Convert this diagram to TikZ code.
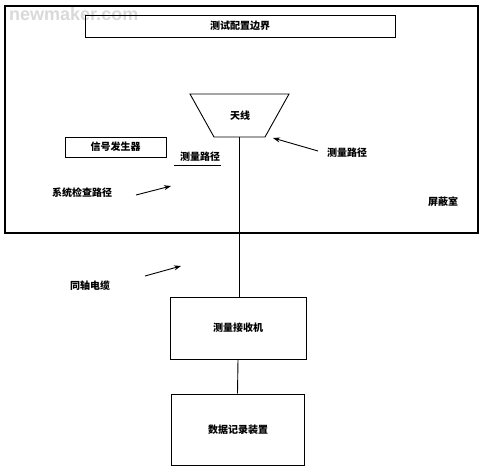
\documentclass[tikz,border=0pt]{standalone}
\usepackage{fontspec}
\newfontfamily\cjk{Noto Sans CJK SC}
\newfontfamily\wm{Liberation Sans}
\usetikzlibrary{arrows.meta,calc}
\begin{document}
\begin{tikzpicture}[x=1pt,y=1pt,
  lbl/.style={font=\cjk\fontsize{10}{12}\selectfont\bfseries, inner sep=0pt},
  box/.style={draw, line width=0.9pt},
  conn/.style={line width=0.9pt},
  arr/.style={line width=0.9pt, -{Stealth[length=7pt,width=5pt]}}]
\useasboundingbox (0,0) rectangle (484,-468);
% watermark
\node[font=\wm\bfseries\fontsize{18}{18}\selectfont, text=gray!30, anchor=west, inner sep=0pt] (wmk) at (9,-14) {newmaker.com};
% shielded room
\draw[box, line width=1.1pt] (5,-6) rectangle (478,-233);
\node[lbl] (room) at (443,-202) {屏蔽室};
% test config boundary
\draw[box] (85,-15) rectangle (395,-37);
\node[lbl] (bound) at (240,-26) {测试配置边界};
% antenna
\draw[box] (190,-94) -- (289,-94) -- (265,-137) -- (214,-137) -- cycle;
\coordinate (antb) at (239,-137);
\node[lbl] (ant) at (240,-116) {天线};
% signal generator
\draw[box] (65,-137) rectangle (166,-157);
\node[lbl] (sg) at (115.5,-147) {信号发生器};
% measurement path underlined
\node[lbl] (mp1) at (200,-157) {测量路径};
\draw[conn] (174,-165) -- (221,-165);
% measurement path arrow
\node[lbl] (mp2) at (347,-153) {测量路径};
\coordinate (a1s) at (318,-151);
\coordinate (a1e) at (273,-138);
\draw[arr] (a1s) -- (a1e);
% system check path
\node[lbl] (scp) at (82,-193) {系统检查路径};
\coordinate (a2s) at (136,-195);
\coordinate (a2e) at (171,-186);
\draw[arr] (a2s) -- (a2e);
% coax cable
\node[lbl] (coax) at (90,-286) {同轴电缆};
\coordinate (a3s) at (145,-276);
\coordinate (a3e) at (181,-266);
\draw[arr] (a3s) -- (a3e);
% receiver
\node[box, minimum width=136pt, minimum height=62pt, inner sep=0pt] (rx) at (238,-328) {};
\node[lbl] (rxl) at (238,-328) {测量接收机};
% data recorder
\node[box, minimum width=133pt, minimum height=71pt, inner sep=0pt] (dr) at (237.5,-429.5) {};
\node[lbl] (drl) at (238,-430) {数据记录装置};
% connectors
\draw[conn] (antb) -- (antb |- rx.north);
\draw[conn] (rx.south) -- (dr.north);
\end{tikzpicture}
\end{document}
